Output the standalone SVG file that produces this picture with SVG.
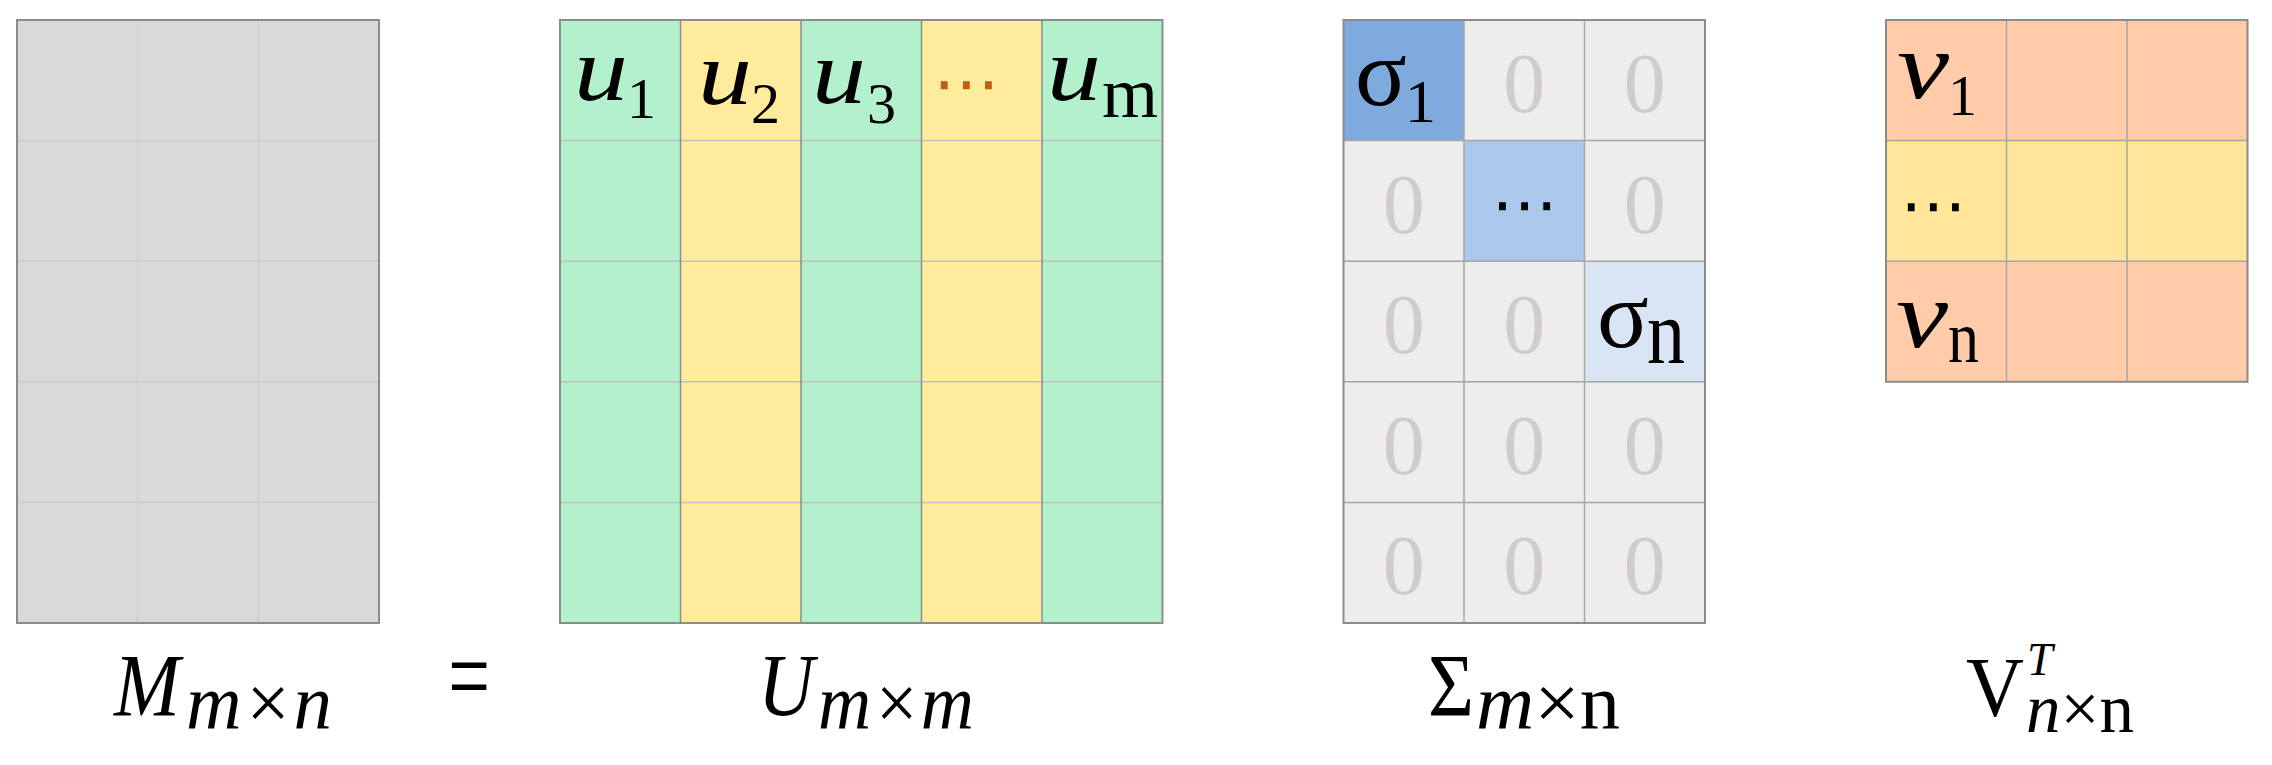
<svg xmlns="http://www.w3.org/2000/svg" width="2272" height="765" viewBox="0 0 2272 765">
<style>
.t{font-family:"Liberation Serif","Times New Roman",serif;fill:#000}
.i{font-style:italic}
.z{font-family:"Liberation Serif",serif;font-size:84px;fill:#D0CCCC;text-anchor:middle}
.dots{font-family:"DejaVu Sans",sans-serif;font-size:66px}
.border{fill:none;stroke:#8C8C8C;stroke-width:2}
.lm{stroke:#CACACA;stroke-width:1.2}
.lh{stroke:#BFBFBF;stroke-width:1.5}
.lv{stroke:#8C8C8C;stroke-width:1.5}
.ls{stroke:#A6A6A6;stroke-width:1.5}
.g{fill:#B3F0CC}
.y{fill:#FFEB9C}
.s0{fill:#EDEDED}
.sal{fill:#FFCBA9}
.vy{fill:#FFE699}
</style>
<rect width="2272" height="765" fill="#FFFFFF"/>
<g id="connectors"/>

<g id="matrix-M">
<rect x="17" y="20" width="362" height="603" fill="#D9D9D9"/>
<line class="lm" x1="137.6" y1="20" x2="137.6" y2="623"/>
<line class="lm" x1="258.2" y1="20" x2="258.2" y2="623"/>
<line class="lm" x1="17" y1="140.6" x2="379" y2="140.6"/>
<line class="lm" x1="17" y1="261.2" x2="379" y2="261.2"/>
<line class="lm" x1="17" y1="381.8" x2="379" y2="381.8"/>
<line class="lm" x1="17" y1="502.4" x2="379" y2="502.4"/>
<rect class="border" x="17" y="20" width="362" height="603"/>
</g>

<g id="matrix-U">
<rect class="g" x="560" y="20" width="120.5" height="603"/>
<rect class="y" x="680.5" y="20" width="120.5" height="603"/>
<rect class="g" x="801" y="20" width="120.5" height="603"/>
<rect class="y" x="921.5" y="20" width="120.5" height="603"/>
<rect class="g" x="1042" y="20" width="120.5" height="603"/>
<line class="lh" x1="560" y1="140.6" x2="1162.5" y2="140.6"/>
<line class="lh" x1="560" y1="261.2" x2="1162.5" y2="261.2"/>
<line class="lh" x1="560" y1="381.8" x2="1162.5" y2="381.8"/>
<line class="lh" x1="560" y1="502.4" x2="1162.5" y2="502.4"/>
<line class="lv" x1="680.5" y1="20" x2="680.5" y2="623"/>
<line class="lv" x1="801" y1="20" x2="801" y2="623"/>
<line class="lv" x1="921.5" y1="20" x2="921.5" y2="623"/>
<line class="lv" x1="1042" y1="20" x2="1042" y2="623"/>
<rect class="border" x="560" y="20" width="602.5" height="603"/>
<text class="t i" x="574" y="100" font-size="92" textLength="54" lengthAdjust="spacingAndGlyphs">u</text>
<text class="t" x="627" y="118" font-size="58">1</text>
<text class="t i" x="698" y="104" font-size="92" textLength="54" lengthAdjust="spacingAndGlyphs">u</text>
<text class="t" x="751" y="123" font-size="58">2</text>
<text class="t i" x="812" y="103" font-size="92" textLength="54" lengthAdjust="spacingAndGlyphs">u</text>
<text class="t" x="867" y="123" font-size="58">3</text>
<text class="dots" x="966" y="106" fill="#C55A11" text-anchor="middle">⋯</text>
<text class="t i" x="1047" y="100" font-size="92" textLength="54" lengthAdjust="spacingAndGlyphs">u</text>
<text class="t" x="1102" y="117" font-size="72">m</text>
</g>

<g id="matrix-Sigma">
<rect class="s0" x="1343.5" y="20" width="361.5" height="603"/>
<rect x="1343.5" y="20" width="120.5" height="120.6" fill="#7FAADD"/>
<rect x="1464" y="140.6" width="120.5" height="120.6" fill="#AAC7EC"/>
<rect x="1584.5" y="261.2" width="120.5" height="120.6" fill="#D9E4F5"/>
<line class="ls" x1="1464" y1="20" x2="1464" y2="623"/>
<line class="ls" x1="1584.5" y1="20" x2="1584.5" y2="623"/>
<line class="ls" x1="1343.5" y1="140.6" x2="1705" y2="140.6"/>
<line class="ls" x1="1343.5" y1="261.2" x2="1705" y2="261.2"/>
<line class="ls" x1="1343.5" y1="381.8" x2="1705" y2="381.8"/>
<line class="ls" x1="1343.5" y1="502.4" x2="1705" y2="502.4"/>
<rect class="border" x="1343.5" y="20" width="361.5" height="603"/>
<text class="t" x="1355" y="105" font-size="96">σ</text>
<text class="t" x="1405" y="122" font-size="62">1</text>
<text class="z" x="1524.2" y="112">0</text>
<text class="z" x="1644.7" y="112">0</text>
<text class="z" x="1403.7" y="232.6">0</text>
<text class="dots" x="1524.2" y="227" text-anchor="middle">⋯</text>
<text class="z" x="1644.7" y="232.6">0</text>
<text class="z" x="1403.7" y="353.2">0</text>
<text class="z" x="1524.2" y="353.2">0</text>
<text class="t" x="1597" y="347" font-size="96">σ</text>
<text class="t" x="1647" y="363" font-size="92" textLength="38" lengthAdjust="spacingAndGlyphs">n</text>
<text class="z" x="1403.7" y="473.8">0</text>
<text class="z" x="1524.2" y="473.8">0</text>
<text class="z" x="1644.7" y="473.8">0</text>
<text class="z" x="1403.7" y="594.4">0</text>
<text class="z" x="1524.2" y="594.4">0</text>
<text class="z" x="1644.7" y="594.4">0</text>
</g>

<g id="matrix-V">
<rect class="sal" x="1886" y="20" width="361.5" height="361.8"/>
<rect class="vy" x="1886" y="140.6" width="361.5" height="120.6"/>
<line class="ls" x1="2006.5" y1="20" x2="2006.5" y2="381.8"/>
<line class="ls" x1="2127" y1="20" x2="2127" y2="381.8"/>
<line class="ls" x1="1886" y1="140.6" x2="2247.5" y2="140.6"/>
<line class="ls" x1="1886" y1="261.2" x2="2247.5" y2="261.2"/>
<rect class="border" x="1886" y="20" width="361.5" height="361.8"/>
<text class="t i" x="1897" y="98" font-size="96" textLength="52" lengthAdjust="spacingAndGlyphs">v</text>
<text class="t" x="1948" y="115" font-size="58">1</text>
<text class="dots" x="1900" y="228">⋯</text>
<text class="t i" x="1896" y="347" font-size="96" textLength="52" lengthAdjust="spacingAndGlyphs">v</text>
<text class="t" x="1948" y="362" font-size="74" textLength="31" lengthAdjust="spacingAndGlyphs">n</text>
</g>

<g id="label-M">
<text class="t i" x="114" y="715" font-size="88" textLength="66" lengthAdjust="spacingAndGlyphs">M</text>
<text class="t i" x="186" y="729" font-size="78" textLength="146" lengthAdjust="spacingAndGlyphs">m×n</text>
</g>

<g id="label-eq">
<text class="t" transform="translate(469,713) scale(1,1.5)" font-size="74" text-anchor="middle" font-family="Liberation Sans">=</text>
</g>

<g id="label-U">
<text class="t i" x="758" y="715" font-size="88" textLength="56" lengthAdjust="spacingAndGlyphs">U</text>
<text class="t i" x="818" y="729" font-size="78" textLength="156" lengthAdjust="spacingAndGlyphs">m×m</text>
</g>

<g id="label-Sigma">
<text class="t" x="1428" y="715" font-size="88" textLength="46" lengthAdjust="spacingAndGlyphs">Σ</text>
<text class="t" x="1476" y="729" font-size="78" textLength="144" lengthAdjust="spacingAndGlyphs"><tspan class="i">m</tspan>×n</text>
</g>

<g id="label-VT">
<text class="t" x="1966" y="716" font-size="84" textLength="58" lengthAdjust="spacingAndGlyphs">V</text>
<text class="t i" x="2027" y="675" font-size="46">T</text>
<text class="t" x="2026" y="732" font-size="70" textLength="108" lengthAdjust="spacingAndGlyphs"><tspan class="i">n</tspan>×n</text>
</g>
</svg>
